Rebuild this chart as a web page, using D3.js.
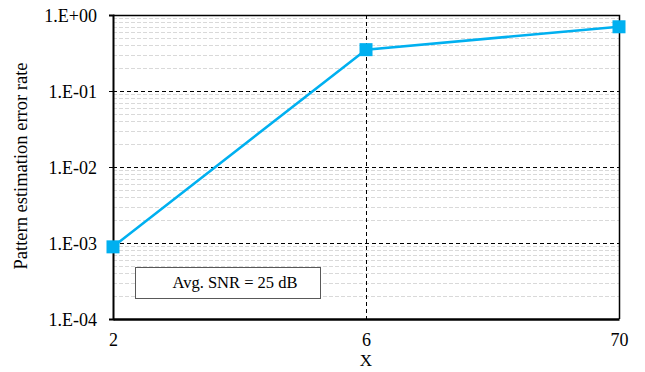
<!DOCTYPE html>
<meta charset="utf-8">
<script src="https://d3js.org/d3.v7.min.js"></script>
<style>
  body { margin: 0; background: #fff; }
</style>
<div id="chart"></div>
<script>

// data
var categories = ["2", "6", "70"];
var errorRate = [0.00089, 0.35, 0.70];
var yTicks = [1e-4, 1e-3, 1e-2, 1e-1, 1];
var yTickLabels = ["1.E-04", "1.E-03", "1.E-02", "1.E-01", "1.E+00"];
var legendText = "Avg. SNR = 25 dB";

var FONT = "'Liberation Serif', 'Times New Roman', Times, serif";

var W = 645, H = 372;
var margin = {top: 15, right: 26, bottom: 53, left: 113};
var width = W - margin.left - margin.right,
    height = H - margin.top - margin.bottom;

var svg = d3.select("#chart").append("svg")
  .attr("width", W).attr("height", H)
  .attr("font-family", FONT);

var g = svg.append("g")
  .attr("transform", "translate(" + margin.left + "," + margin.top + ")");

var x = d3.scalePoint().domain(categories).range([0, width]);
var y = d3.scaleLog().domain([1e-4, 1]).range([height, 0]);

// minor grid (2..9 per decade)
var minor = [];
for (var e = -4; e < 0; e++) {
  for (var m = 2; m <= 9; m++) minor.push(m * Math.pow(10, e));
}
g.selectAll(".minor").data(minor).enter().append("line")
  .attr("x1", 0).attr("x2", width)
  .attr("y1", d => Math.round(y(d)) + 0.5).attr("y2", d => Math.round(y(d)) + 0.5)
  .style("stroke", "#d9d9d9").style("stroke-width", 1)
  .style("stroke-dasharray", "4,2");

// major grid
g.selectAll(".major").data(yTicks.slice(1, -1)).enter().append("line")
  .attr("x1", 0).attr("x2", width)
  .attr("y1", d => Math.round(y(d)) + 0.5).attr("y2", d => Math.round(y(d)) + 0.5)
  .style("stroke", "#000").style("stroke-width", 1)
  .style("stroke-dasharray", "4,3");

g.selectAll(".vgrid").data(categories.slice(1, -1)).enter().append("line")
  .attr("x1", d => Math.round(x(d)) + 0.5).attr("x2", d => Math.round(x(d)) + 0.5)
  .attr("y1", 0).attr("y2", height)
  .style("stroke", "#000").style("stroke-width", 1)
  .style("stroke-dasharray", "4,3");

// top / right frame
g.append("path")
  .attr("d", "M0,0.5H" + (width + 0.5) + "V" + height)
  .style("fill", "none").style("stroke", "#000").style("stroke-width", 1.5);

// y axis
var yAxis = g.append("g")
  .call(d3.axisLeft(y).tickValues(yTicks)
    .tickFormat((d, i) => yTickLabels[i]).tickSize(4).tickPadding(12));
yAxis.attr("font-family", FONT);
yAxis.select(".domain").style("stroke-width", 2);
yAxis.selectAll("text").style("font-size", "18px").attr("dy", "0.35em");

// x axis
var xAxis = g.append("g")
  .attr("transform", "translate(0," + height + ")")
  .call(d3.axisBottom(x).tickSize(0).tickPadding(14));
xAxis.attr("font-family", FONT);
xAxis.select(".domain").style("stroke-width", 2.5);
xAxis.selectAll("text").style("font-size", "18px");

// legend box
g.append("rect")
  .attr("x", 22.5).attr("y", 252.5).attr("width", 185).attr("height", 31)
  .style("fill", "#fff").style("stroke", "#595959").style("stroke-width", 1);
g.append("text")
  .attr("x", 122).attr("y", 273)
  .attr("text-anchor", "middle")
  .style("font-size", "16.5px")
  .text(legendText);

// line and markers
var line = d3.line().x((d, i) => x(categories[i])).y(d => y(d));
g.append("path").datum(errorRate)
  .attr("d", line)
  .style("fill", "none").style("stroke", "#00b0f0").style("stroke-width", 2.5);

g.selectAll(".pt").data(errorRate).enter().append("rect")
  .attr("x", (d, i) => x(categories[i]) - 6.5)
  .attr("y", d => y(d) - 6.5)
  .attr("width", 13).attr("height", 13)
  .style("fill", "#00b0f0");

// axis titles
svg.append("text")
  .attr("transform", "translate(27,166) rotate(-90)")
  .attr("text-anchor", "middle")
  .style("font-size", "18.5px")
  .text("Pattern estimation error rate");

svg.append("text")
  .attr("x", margin.left + width / 2).attr("y", 366)
  .attr("text-anchor", "middle")
  .style("font-size", "17px")
  .text("X");

</script>
